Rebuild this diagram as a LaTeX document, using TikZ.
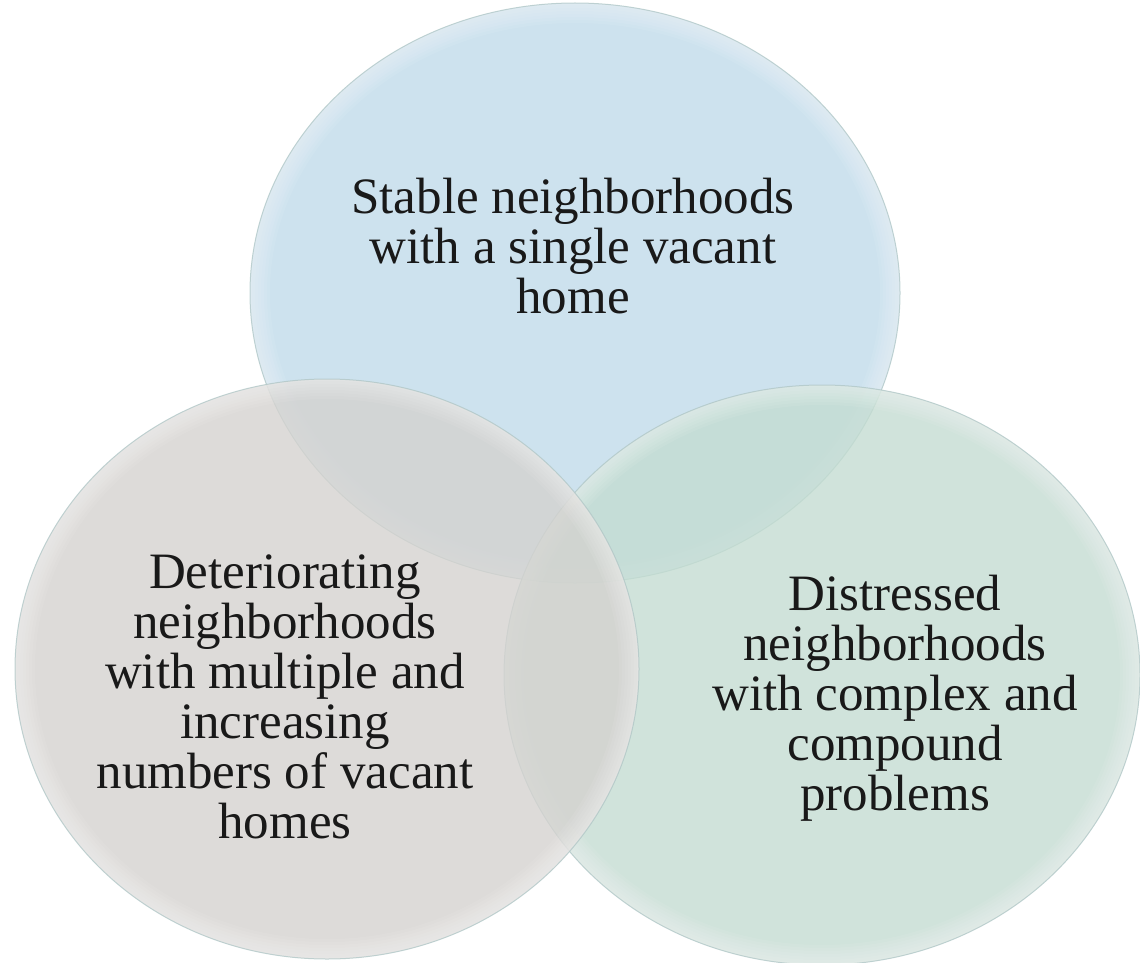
\documentclass[tikz,border=0pt]{standalone}
\usepackage{fontspec}
\setmainfont{Liberation Serif}
\begin{document}
\begin{tikzpicture}[x=1pt,y=-1pt,
  bubble/.style={fill opacity=0.78},
  rim/.style={draw=white, draw opacity=0.07},
  edge/.style={draw=gray!60!teal!45, line width=1pt, draw opacity=0.75},
  label/.style={align=center, text=black!90, font=\fontsize{51}{50}\selectfont},
]
\definecolor{topfill}{RGB}{191,219,234}
\definecolor{leftfill}{RGB}{212,210,207}
\definecolor{rightfill}{RGB}{195,220,209}
\useasboundingbox[fill=white] (0,0) rectangle (1140,963);

% one translucent disc with a soft light rim and a thin outline
\newcommand{\disc}[4]{%
  \path[bubble, fill=#4] (#1,#2) ellipse [x radius=#3, y radius=290];
  \begin{scope}
    \clip (#1,#2) ellipse [x radius=#3, y radius=290];
    \foreach \w in {40,34,...,4}
      \draw[rim, line width=\w pt] (#1,#2) ellipse [x radius=#3, y radius=290];
  \end{scope}
  \draw[edge] (#1,#2) ellipse [x radius=#3, y radius=290];
}

% the three overlapping neighbourhood types
\disc{575}{293}{325}{topfill}
\disc{822}{675}{318}{rightfill}
\disc{327}{669}{312}{leftfill}

\node[label] (stable) at (573,246) {Stable neighborhoods\\with a single vacant\\home};
\node[label] (deter) at (285,697) {Deteriorating\\neighborhoods\\with multiple and\\increasing\\numbers of vacant\\homes};
\node[label] (distr) at (895,698) {Distressed\\neighborhoods\\with complex and\\compound\\problems};
\end{tikzpicture}
\end{document}
